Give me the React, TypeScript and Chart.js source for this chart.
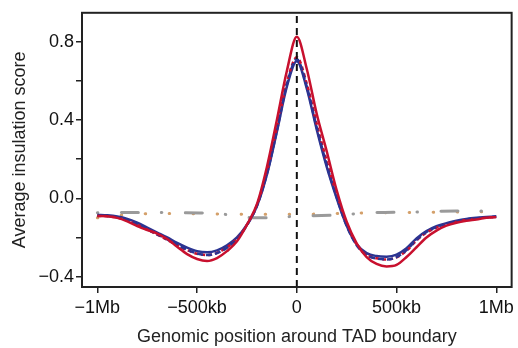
import React, { useEffect, useRef } from "react";
import { Chart, registerables } from "chart.js";

Chart.register(...registerables);

// Genomic position (kb) around TAD boundary
const positions = [
  -1000, -950, -900, -850, -800, -750, -700, -650, -600, -550, -500, -450, -400, -350, -300, -250, -200, -150, -100, -50,
  0, 50, 100, 150, 200, 250, 300, 350, 400, 450, 500, 550, 600, 650, 700, 750, 800, 850, 900, 950, 1000,
];

const redSolid = [
  -0.09, -0.092, -0.1, -0.118, -0.142, -0.162, -0.18, -0.208, -0.248, -0.285, -0.31, -0.32, -0.305, -0.27, -0.22, -0.135, -0.03, 0.16, 0.4, 0.65,
  0.825, 0.66, 0.43, 0.24, 0.04, -0.12, -0.23, -0.3, -0.335, -0.348, -0.34, -0.3, -0.25, -0.2, -0.165, -0.14, -0.125, -0.115, -0.108, -0.1, -0.095,
];

const redDashed = [
  -0.09, -0.092, -0.098, -0.112, -0.135, -0.16, -0.186, -0.212, -0.24, -0.265, -0.283, -0.29, -0.279, -0.25, -0.205, -0.135, -0.035, 0.135, 0.36, 0.59,
  0.72, 0.585, 0.38, 0.19, 0.02, -0.13, -0.235, -0.288, -0.306, -0.312, -0.302, -0.268, -0.215, -0.175, -0.15, -0.132, -0.12, -0.11, -0.104, -0.099, -0.095,
];

const blueSolid = [
  -0.085, -0.087, -0.093, -0.105, -0.125, -0.15, -0.175, -0.2, -0.228, -0.252, -0.27, -0.276, -0.266, -0.24, -0.2, -0.135, -0.04, 0.12, 0.34, 0.57,
  0.7, 0.56, 0.35, 0.16, 0.0, -0.14, -0.235, -0.28, -0.295, -0.298, -0.288, -0.255, -0.205, -0.168, -0.143, -0.127, -0.115, -0.106, -0.1, -0.096, -0.092,
];

const blueDashed = [
  -0.088, -0.09, -0.097, -0.11, -0.132, -0.158, -0.184, -0.21, -0.238, -0.262, -0.282, -0.29, -0.28, -0.252, -0.208, -0.138, -0.038, 0.125, 0.345, 0.58,
  0.71, 0.57, 0.36, 0.17, 0.005, -0.14, -0.24, -0.29, -0.308, -0.312, -0.3, -0.265, -0.212, -0.172, -0.147, -0.13, -0.118, -0.108, -0.102, -0.098, -0.094,
];

// Faint control profiles
const controlPositions = [-1000, -800, -600, -400, -200, 0, 200, 400, 600, 800, 1000];
const grayControl = [-0.074, -0.072, -0.073, -0.078, -0.1, -0.092, -0.085, -0.073, -0.07, -0.065, -0.065];
const orangeControl = [-0.1, -0.08, -0.078, -0.08, -0.082, -0.082, -0.078, -0.074, -0.072, -0.07, -0.068];

const xTicks = [-1000, -500, 0, 500, 1000];
const xTickLabels = ["\u22121Mb", "\u2212500kb", "0", "500kb", "1Mb"];
const yTicks = [-0.4, -0.2, 0, 0.2, 0.4, 0.6, 0.8];
const yTickLabels = ["\u22120.4", "", "0.0", "", "0.4", "", "0.8"];

const xMin = -1077;
const xMax = 1077;
const yMin = -0.453;
const yMax = 0.947;

const FONT = "'Liberation Sans', Arial, Helvetica, sans-serif";

const toPoints = (xs: number[], ys: number[]) => xs.map((x, i) => ({ x, y: ys[i] }));

const boxPlugin = {
  id: "boxPlugin",
  afterDatasetsDraw(chart: any) {
    const { ctx, chartArea } = chart;
    ctx.save();
    ctx.strokeStyle = "#222";
    ctx.lineWidth = 2;
    ctx.strokeRect(chartArea.left, chartArea.top, chartArea.right - chartArea.left, chartArea.bottom - chartArea.top);
    ctx.restore();
  },
};

export default function App() {
  const canvasRef = useRef<HTMLCanvasElement | null>(null);

  useEffect(() => {
    if (!canvasRef.current) return;
    const chart = new Chart(canvasRef.current, {
      type: "line",
      data: {
        datasets: [
          {
            data: [
              { x: 0, y: yMin },
              { x: 0, y: yMax },
            ],
            borderColor: "#111",
            borderWidth: 2,
            borderDash: [7, 5],
            pointRadius: 0,
            order: 0,
          },
          {
            data: toPoints(positions, redSolid),
            borderColor: "#c8102e",
            borderWidth: 2.5,
            pointRadius: 0,
            cubicInterpolationMode: "monotone",
            order: 1,
          },
          {
            data: toPoints(positions, blueDashed),
            borderColor: "#2b3492",
            borderWidth: 2.5,
            borderDash: [6, 3],
            pointRadius: 0,
            cubicInterpolationMode: "monotone",
            order: 2,
          },
          {
            data: toPoints(positions, redDashed),
            borderColor: "#c8102e",
            borderWidth: 2.5,
            borderDash: [4, 3],
            pointRadius: 0,
            cubicInterpolationMode: "monotone",
            order: 3,
          },
          {
            data: toPoints(positions, blueSolid),
            borderColor: "#2b3492",
            borderWidth: 2.5,
            pointRadius: 0,
            cubicInterpolationMode: "monotone",
            order: 4,
          },
          {
            data: toPoints(controlPositions, grayControl),
            borderColor: "#9a9a9a",
            borderWidth: 3,
            borderDash: [17, 23, 0.5, 23.5],
            borderDashOffset: 40,
            borderCapStyle: "round",
            pointRadius: 0,
            cubicInterpolationMode: "monotone",
            order: 6,
          },
          {
            data: toPoints(controlPositions, orangeControl),
            borderColor: "#d4a06a",
            borderWidth: 3,
            borderDash: [0.5, 23.5],
            borderCapStyle: "round",
            pointRadius: 0,
            cubicInterpolationMode: "monotone",
            order: 7,
          },
        ],
      },
      options: {
        responsive: false,
        animation: false,
        devicePixelRatio: 1,
        events: [],
        layout: { padding: { top: 12.5, right: 6, left: 0, bottom: 0 } },
        plugins: { legend: { display: false }, tooltip: { enabled: false } },
        scales: {
          x: {
            type: "linear",
            min: xMin,
            max: xMax,
            afterBuildTicks: (scale: any) => {
              scale.ticks = xTicks.map((v) => ({ value: v }));
            },
            afterFit: (scale: any) => {
              scale.height = 61;
            },
            ticks: {
              autoSkip: false,
              maxRotation: 0,
              padding: 4,
              color: "#111",
              font: { family: FONT, size: 18 },
              callback: (value: any) => {
                const i = xTicks.indexOf(Number(value));
                return i >= 0 ? xTickLabels[i] : "";
              },
            },
            grid: { drawOnChartArea: false, drawTicks: true, tickLength: 6, color: "#222", lineWidth: 1.5 },
            border: { display: false },
            title: {
              display: true,
              text: "Genomic position around TAD boundary",
              color: "#222",
              font: { family: FONT, size: 18 },
              padding: { top: 0, bottom: 0 },
            },
          },
          y: {
            type: "linear",
            min: yMin,
            max: yMax,
            afterBuildTicks: (scale: any) => {
              scale.ticks = yTicks.map((v) => ({ value: v }));
            },
            afterFit: (scale: any) => {
              scale.width = 82;
            },
            ticks: {
              autoSkip: false,
              padding: 2,
              color: "#111",
              font: { family: FONT, size: 18 },
              callback: (value: any) => {
                const i = yTicks.findIndex((t) => Math.abs(t - Number(value)) < 1e-6);
                return i >= 0 ? yTickLabels[i] : "";
              },
            },
            grid: { drawOnChartArea: false, drawTicks: true, tickLength: 6, color: "#222", lineWidth: 1.5 },
            border: { display: false },
            title: {
              display: true,
              text: "Average insulation score",
              color: "#222",
              font: { family: FONT, size: 18 },
              padding: { top: 9, bottom: 0 },
            },
          },
        },
      },
      plugins: [boxPlugin],
    } as any);
    return () => chart.destroy();
  }, []);

  return (
    <div style={{ position: "absolute", left: 0, top: 0, width: 518, height: 348, background: "#fff" }}>
      <canvas ref={canvasRef} width={518} height={348} style={{ display: "block" }} />
    </div>
  );
}
